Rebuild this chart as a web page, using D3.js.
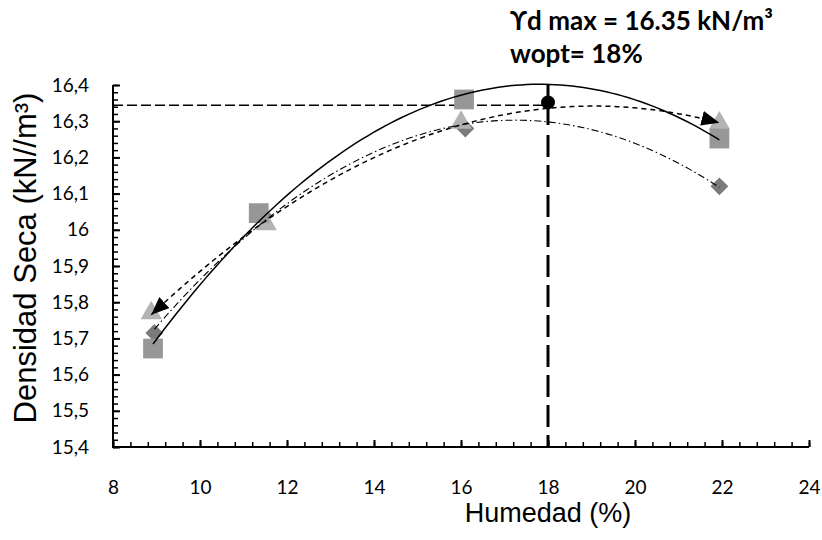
<!DOCTYPE html>
<html><head><meta charset="utf-8">
<script src="https://cdn.jsdelivr.net/npm/d3@7"></script>
<style>
html,body{margin:0;padding:0;background:#fff;}
svg{display:block;}
</style></head>
<body>
<svg id="chart" width="822" height="540"></svg>
<script>
// ---- data ----
const diamondX = [8.95, 11.45, 16.1, 21.94];
const diamondY = [15.715, 16.04, 16.28, 16.12];
const squareX  = [8.92, 11.35, 16.07, 21.94];
const squareY  = [15.672, 16.046, 16.36, 16.252];
const triangleX = [8.88, 11.52, 16.0, 21.94];
const triangleY = [15.77, 16.016, 16.296, 16.294];
const optimumX = 18;
const optimumY = 16.352;
const refLineY = 16.344;
const xTicks = [8, 10, 12, 14, 16, 18, 20, 22, 24];
const yTicks = [15.4, 15.5, 15.6, 15.7, 15.8, 15.9, 16.0, 16.1, 16.2, 16.3, 16.4];
const xTitle = "Humedad (%)";
const yTitle = "Densidad Seca (kN//m³)";
const note1 = "ϒd max = 16.35 kN/m³";
const note2 = "wopt= 18%";

const svg = d3.select("#chart");
const x = d3.scaleLinear().domain([8, 24]).range([113, 809]);
const y = d3.scaleLinear().domain([15.4, 16.4]).range([447, 85]);

// least-squares quadratic fit (Excel polynomial trendline, order 2)
function quadFit(xs, ys) {
  const n = xs.length;
  let s = [0,0,0,0,0], t = [0,0,0];
  for (let i = 0; i < n; i++) {
    const xi = xs[i], yi = ys[i];
    for (let k = 0; k <= 4; k++) s[k] += Math.pow(xi, k);
    for (let k = 0; k <= 2; k++) t[k] += Math.pow(xi, k) * yi;
  }
  const M = [[s[0], s[1], s[2], t[0]], [s[1], s[2], s[3], t[1]], [s[2], s[3], s[4], t[2]]];
  for (let c = 0; c < 3; c++) {
    let p = c;
    for (let r = c + 1; r < 3; r++) if (Math.abs(M[r][c]) > Math.abs(M[p][c])) p = r;
    [M[c], M[p]] = [M[p], M[c]];
    for (let r = 0; r < 3; r++) if (r !== c) {
      const f = M[r][c] / M[c][c];
      for (let k = c; k < 4; k++) M[r][k] -= f * M[c][k];
    }
  }
  const a = M[0][3] / M[0][0], b = M[1][3] / M[1][1], cc = M[2][3] / M[2][2];
  return xv => a + b * xv + cc * xv * xv;
}
function trendPts(xs, ys) {
  const f = quadFit(xs, ys);
  const lo = d3.min(xs), hi = d3.max(xs);
  return d3.range(0, 101).map(i => { const xv = lo + (hi - lo) * i / 100; return [xv, f(xv)]; });
}
const line = d3.line().x(d => x(d[0])).y(d => y(d[1])).curve(d3.curveLinear);

// arrow marker
const defs = svg.append("defs");
defs.append("marker").attr("id", "arr").attr("viewBox", "0 0 18 15")
  .attr("refX", 18).attr("refY", 7.5).attr("markerWidth", 18).attr("markerHeight", 15)
  .attr("markerUnits", "userSpaceOnUse").attr("orient", "auto-start-reverse")
  .append("path").attr("d", "M0,0 L18,7.5 L0,15 Z").attr("fill", "#000");

// axes
const gx = svg.append("g").attr("transform", `translate(0,${y(15.4)})`);
gx.call(d3.axisBottom(x).tickValues(d3.range(8, 24.001, 0.4)).tickSize(-5).tickFormat(""));
gx.call(g => g.selectAll(".tick line").attr("stroke", "#000").attr("stroke-width", 1.5));
gx.call(g => g.select(".domain").remove());
const gx2 = svg.append("g").attr("transform", `translate(0,${y(15.4)})`);
gx2.call(d3.axisBottom(x).tickValues(xTicks).tickSize(-7).tickPadding(0).tickFormat(d3.format("d")));
gx2.call(g => g.select(".domain").remove());
gx2.selectAll(".tick line").attr("stroke", "#000").attr("stroke-width", 2);
gx2.selectAll(".tick text").attr("y", 47).attr("dy", null)
  .style("font-family", "Lato, 'Open Sans', sans-serif").style("font-size", "19px").attr("fill", "#000");

const gy = svg.append("g").attr("transform", `translate(${x(8)},0)`);
gy.call(d3.axisLeft(y).tickValues(d3.range(0, 51).map(i => 15.4 + i * 0.02)).tickSize(-5).tickFormat(""));
gy.call(g => g.select(".domain").remove());
gy.selectAll(".tick line").attr("stroke", "#000").attr("stroke-width", 1.5);
const gy2 = svg.append("g").attr("transform", `translate(${x(8)},0)`);
const fmt = v => (Math.round(v * 10) / 10).toString().replace(".", ",");
gy2.call(d3.axisLeft(y).tickValues(yTicks).tickSize(-7).tickFormat(fmt));
gy2.call(g => g.select(".domain").remove());
gy2.selectAll(".tick line").attr("stroke", "#000").attr("stroke-width", 2);
gy2.selectAll(".tick text").attr("x", -24)
  .style("font-family", "Lato, 'Open Sans', sans-serif").style("font-size", "19px").attr("fill", "#000");

svg.append("line").attr("x1", x(8)).attr("x2", x(24)).attr("y1", y(15.4)).attr("y2", y(15.4))
  .attr("stroke", "#000").attr("stroke-width", 2);
svg.append("line").attr("x1", x(8)).attr("x2", x(8)).attr("y1", y(15.4) + 1).attr("y2", y(16.4))
  .attr("stroke", "#000").attr("stroke-width", 2);

// reference lines
svg.append("line").attr("x1", x(8)).attr("x2", x(optimumX)).attr("y1", y(refLineY)).attr("y2", y(refLineY))
  .attr("stroke", "#000").attr("stroke-width", 1.5).attr("stroke-dasharray", "10,4");
svg.append("line").attr("x1", x(optimumX)).attr("x2", x(optimumX)).attr("y1", y(16.4)).attr("y2", y(15.4))
  .attr("stroke", "#000").attr("stroke-width", 3).attr("stroke-dasharray", "40,10,22,8,22,8,22,8,22,8,22,8,22,8,22,8,22,8,22,8,22,8,22,8,22,8");

// markers (diamond, triangle, square order)
const dia = d3.symbol().type(d3.symbolSquare).size(160);
svg.append("g").selectAll("path").data(diamondX.map((v, i) => [v, diamondY[i]])).join("path")
  .attr("d", dia).attr("transform", d => `translate(${x(d[0])},${y(d[1])}) rotate(45)`).attr("fill", "#7b7b7b");
const tri = d3.symbol().type(d3.symbolTriangle).size(200);
svg.append("g").selectAll("path").data(triangleX.map((v, i) => [v, triangleY[i]])).join("path")
  .attr("d", tri).attr("transform", d => `translate(${x(d[0])},${y(d[1])})`).attr("fill", "#b3b3b3");
const sq = d3.symbol().type(d3.symbolSquare).size(390);
svg.append("g").selectAll("path").data(squareX.map((v, i) => [v, squareY[i]])).join("path")
  .attr("d", sq).attr("transform", d => `translate(${x(d[0])},${y(d[1])})`).attr("fill", "#979797");

// trendlines
svg.append("path").datum(trendPts(diamondX, diamondY)).attr("d", line)
  .attr("fill", "none").attr("stroke", "#000").attr("stroke-width", 1.1).attr("stroke-dasharray", "7,3,1.5,3");
svg.append("path").datum(trendPts(squareX, squareY)).attr("d", line)
  .attr("fill", "none").attr("stroke", "#000").attr("stroke-width", 1.5);
svg.append("path").datum(trendPts(triangleX, triangleY)).attr("d", line)
  .attr("fill", "none").attr("stroke", "#000").attr("stroke-width", 1.5).attr("stroke-dasharray", "5,4")
  .attr("marker-start", "url(#arr)").attr("marker-end", "url(#arr)");

// optimum point
svg.append("circle").attr("cx", x(optimumX)).attr("cy", y(optimumY)).attr("r", 7).attr("fill", "#000");

// titles
svg.append("text").attr("x", 548).attr("y", 522).attr("text-anchor", "middle")
  .style("font-family", "'Liberation Sans', Arial, sans-serif").style("font-size", "27px").text(xTitle);
svg.append("text").attr("transform", `translate(36,${258}) rotate(-90)`).attr("text-anchor", "middle")
  .style("font-family", "'Liberation Sans', Arial, sans-serif").style("font-size", "31px").text(yTitle);

svg.append("text").attr("x", 510).attr("y", 30)
  .style("font-family", "Lato, 'Open Sans', sans-serif").style("font-weight", "bold").style("font-size", "26px").text(note1);
svg.append("text").attr("x", 510).attr("y", 63)
  .style("font-family", "Lato, 'Open Sans', sans-serif").style("font-weight", "bold").style("font-size", "26px").text(note2);
</script>
</body></html>
